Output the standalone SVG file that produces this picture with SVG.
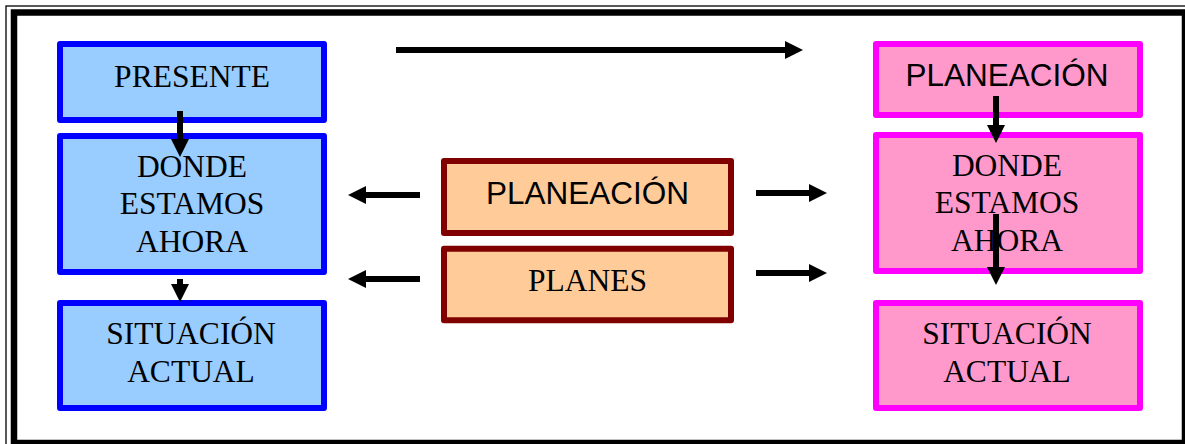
<svg xmlns="http://www.w3.org/2000/svg" width="1185" height="444" viewBox="0 0 1185 444">
<defs>
<style>
.blue{fill:#99CCFF;stroke:#0000FF;stroke-width:6;stroke-linejoin:round}
.pink{fill:#FF99CC;stroke:#FF00FF;stroke-width:6;stroke-linejoin:round}
.tan{fill:#FFCC99;stroke:#800000;stroke-width:6;stroke-linejoin:round}
.serif{font-family:"Liberation Serif","Times New Roman",serif;font-size:31.5px;fill:#000;text-anchor:middle}
.sans{font-family:"Liberation Sans",Arial,sans-serif;font-size:31.5px;fill:#000;text-anchor:middle}
.arr{stroke:#000;stroke-width:6;fill:none;marker-end:url(#head)}
</style>
<marker id="head" markerUnits="userSpaceOnUse" markerWidth="18" markerHeight="18" refX="8" refY="9" orient="auto" viewBox="0 0 18 18">
<path d="M0,0 L18,9 L0,18 z" fill="#000"/>
</marker>
</defs>
<rect width="1185" height="444" fill="#fff"/>
<g id="frame" fill="none" stroke="#000">
<rect x="6" y="6" width="1200" height="460" stroke-width="1.3"/>
<rect x="14" y="12.5" width="1171" height="430.5" stroke-width="6.5"/>
</g>
<g id="presente">
<rect class="blue" x="60" y="44" width="264" height="76"/>
<text class="serif" x="192" y="86.7">PRESENTE</text>
</g>
<g id="donde-izq">
<rect class="blue" x="60" y="136" width="264" height="136"/>
<text class="serif" x="192" y="176.7">DONDE</text>
<text class="serif" x="192" y="214.3">ESTAMOS</text>
<text class="serif" x="192" y="251.7">AHORA</text>
</g>
<g id="situacion-izq">
<rect class="blue" x="60" y="303" width="264" height="105"/>
<text class="serif" x="191" y="344">SITUACIÓN</text>
<text class="serif" x="191" y="381.7">ACTUAL</text>
</g>
<g id="planeacion-centro">
<rect class="tan" x="444" y="161" width="287" height="72"/>
<text class="sans" x="587.5" y="204.3">PLANEACIÓN</text>
</g>
<g id="planes">
<rect class="tan" x="444" y="248.7" width="287" height="71.6"/>
<text class="serif" x="587.5" y="290.7">PLANES</text>
</g>
<g id="planeacion-der">
<rect class="pink" x="876" y="44" width="264" height="71"/>
<text class="sans" x="1007" y="86">PLANEACIÓN</text>
</g>
<g id="donde-der">
<rect class="pink" x="876" y="135" width="264" height="136"/>
<text class="serif" x="1007" y="176">DONDE</text>
<text class="serif" x="1007" y="212.7">ESTAMOS</text>
<text class="serif" x="1007" y="250.7">AHORA</text>
</g>
<g id="situacion-der">
<rect class="pink" x="876" y="303" width="264" height="105"/>
<text class="serif" x="1007" y="344">SITUACIÓN</text>
<text class="serif" x="1007" y="381.7">ACTUAL</text>
</g>
<g id="connectors">
<line class="arr" x1="396" y1="50" x2="793" y2="50"/>
<line class="arr" x1="180" y1="111" x2="180" y2="147"/>
<line class="arr" x1="180" y1="279" x2="180" y2="292"/>
<line class="arr" x1="996" y1="96" x2="996" y2="133"/>
<line class="arr" x1="996" y1="214" x2="996" y2="275"/>
<line class="arr" x1="420" y1="195" x2="358" y2="195"/>
<line class="arr" x1="420" y1="279" x2="358" y2="279"/>
<line class="arr" x1="756" y1="193" x2="817" y2="193"/>
<line class="arr" x1="756" y1="273" x2="817" y2="273"/>
</g>
</svg>
